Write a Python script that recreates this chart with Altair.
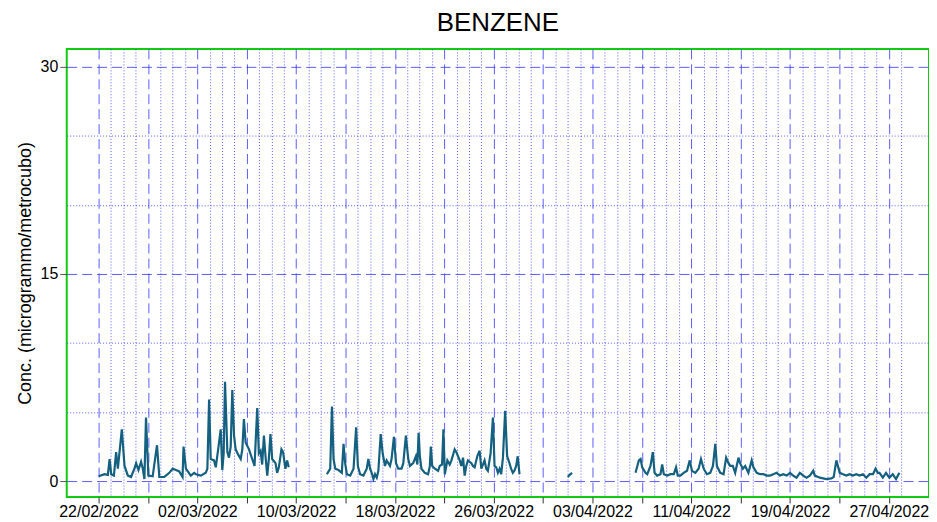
import altair as alt
import pandas as pd

TITLE = "BENZENE"
Y_TITLE = "Conc. (microgrammo/metrocubo)"
X_LABELS = ["22/02/2022", "02/03/2022", "10/03/2022", "18/03/2022", "26/03/2022",
            "03/04/2022", "11/04/2022", "19/04/2022", "27/04/2022"]
Y_LABELS = [0, 15, 30]

# days since 22/02/2022 00:00, concentration (µg/m3)
seg1_day = [0.0, 0.48, 0.75, 0.89, 1.02, 1.24, 1.42, 1.56, 1.88, 2.10, 2.37, 2.63, 2.90, 3.04, 3.23,
            3.44, 3.58, 3.71, 3.84, 4.03, 4.38, 4.73, 4.92, 5.32, 5.73, 6.0, 6.26, 6.53, 6.80, 6.88,
            7.07, 7.47, 7.74, 7.88, 8.28, 8.68, 8.81, 8.95, 9.08, 9.35, 9.49, 9.70, 9.89, 10.02, 10.13,
            10.24, 10.43, 10.56, 10.70, 10.83, 10.97, 11.10, 11.32, 11.51, 11.64, 11.77, 11.91, 12.18,
            12.44, 12.63, 12.85, 12.98, 13.12, 13.25, 13.39, 13.52, 13.66, 13.79, 13.92, 14.06, 14.33,
            14.46, 14.60, 14.81, 14.94, 15.13, 15.27, 15.40]
seg1_val = [0.35, 0.5, 0.45, 1.6, 0.5, 0.4, 2.1, 0.9, 3.75, 1.1, 0.4, 0.3, 0.9, 1.3, 0.8,
            1.4, 0.9, 0.15, 4.6, 0.4, 0.35, 2.6, 0.3, 0.3, 0.6, 0.9, 0.8, 0.7, 0.3, 2.5,
            0.9, 0.4, 0.6, 0.5, 0.4, 0.6, 0.9, 5.9, 1.6, 1.5, 1.0, 2.4, 3.75, 0.8, 2.0,
            7.2, 2.1, 1.7, 2.5, 6.6, 3.3, 2.3, 1.9, 1.6, 2.3, 4.5, 2.8, 2.3,
            1.6, 1.1, 5.3, 2.0, 2.2, 1.2, 3.3, 1.8, 0.4, 1.6, 3.4, 1.6, 1.3,
            0.6, 1.0, 2.3, 2.1, 0.9, 1.5, 1.0]

seg2_day = [18.49, 18.76, 18.90, 19.03, 19.17, 19.43, 19.70, 19.84, 19.97, 20.11, 20.38, 20.65, 20.86,
            21.0, 21.18, 21.45, 21.72, 21.85, 21.99, 22.12, 22.26, 22.39, 22.53, 22.66, 22.85, 23.01,
            23.20, 23.33, 23.60, 23.73, 23.92, 24.09, 24.27, 24.54, 24.68, 24.89, 25.08, 25.22, 25.48,
            25.70, 25.82, 25.92, 26.02, 26.15, 26.42, 26.69, 26.83, 26.91, 27.02, 27.23, 27.50, 27.63,
            27.82, 27.93, 28.04, 28.25, 28.44, 28.58, 28.84, 28.98, 29.11, 29.25, 29.38, 29.52, 29.65,
            29.78, 29.92, 30.19, 30.32, 30.46, 30.67, 30.86, 31.0, 31.13, 31.26, 31.40, 31.53, 31.75,
            31.94, 32.07, 32.21, 32.34, 32.48, 32.61, 32.75, 32.93, 33.09, 33.28, 33.41, 33.55, 33.68,
            33.82, 33.95, 34.09]
seg2_val = [0.5, 0.9, 5.4, 1.6, 0.9, 0.8, 0.6, 2.7, 1.3, 0.5, 0.4, 0.9, 3.9,
            1.1, 0.5, 0.4, 0.9, 1.6, 0.9, 0.6, 0.15, 0.5, 0.25, 0.75, 3.4, 2.0,
            1.1, 1.5, 1.1, 1.6, 3.2, 1.3, 0.9, 0.9, 1.3, 3.3, 1.6, 1.1, 1.3,
            1.8, 1.2, 3.5, 1.8, 0.9, 0.6, 0.5, 1.1, 2.5, 1.1, 0.9, 0.75, 1.1,
            1.2, 3.75, 0.5, 1.5, 1.2, 1.5, 2.3, 2.1, 1.8, 1.5, 1.1, 1.7, 0.4,
            1.1, 1.5, 1.3, 1.1, 1.0, 1.8, 2.2, 0.9, 1.2, 1.5, 0.9, 0.75, 2.0,
            4.6, 1.1, 1.0, 0.6, 0.9, 0.5, 1.7, 5.1, 1.8, 1.3, 0.9, 0.6, 0.75,
            1.1, 1.8, 0.5]

seg3_day = [38.0, 38.15, 38.35]
seg3_val = [0.3, 0.45, 0.6]

seg4_day = [43.49, 43.76, 43.90, 44.03, 44.30, 44.44, 44.70, 44.89, 45.03, 45.24, 45.51, 45.65, 45.78,
            46.05, 46.32, 46.59, 46.77, 46.91, 47.12, 47.39, 47.66, 47.88, 48.06, 48.33, 48.60, 48.79,
            49.01, 49.27, 49.54, 49.76, 49.95, 50.08, 50.35, 50.62, 50.83, 51.02, 51.16, 51.37, 51.56,
            51.83, 51.96, 52.18, 52.37, 52.63, 52.90, 53.04, 53.31, 53.58, 53.85, 54.11, 54.38, 54.65,
            54.92, 55.19, 55.46, 55.73, 56.0, 56.26, 56.53, 56.80, 57.07, 57.34, 57.61, 57.88, 58.01,
            58.42, 58.95, 59.35, 59.54, 59.76, 60.03, 60.30, 60.56, 60.83, 61.10, 61.37, 61.64, 61.91,
            62.18, 62.45, 62.72, 62.93, 63.12, 63.25, 63.52, 63.78, 64.05, 64.32, 64.59, 64.86]
seg4_val = [0.6, 1.5, 1.6, 1.0, 0.6, 0.5, 1.1, 2.1, 0.6, 0.4, 0.5, 1.2, 0.5,
            0.4, 0.5, 0.5, 1.0, 0.4, 0.4, 0.6, 0.75, 1.5, 0.75, 0.6, 0.9, 1.6,
            0.9, 0.5, 0.6, 1.1, 2.7, 1.1, 0.6, 0.5, 1.7, 1.3, 1.1, 1.1, 0.6,
            1.7, 1.3, 0.9, 1.1, 0.6, 1.5, 1.0, 0.6, 0.5, 0.5, 0.4, 0.4, 0.5,
            0.6, 0.4, 0.5, 0.4, 0.6, 0.4, 0.25, 0.6, 0.4, 0.25, 0.4, 0.75, 0.4,
            0.25, 0.15, 0.2, 0.3, 1.5, 0.6, 0.5, 0.4, 0.5, 0.4, 0.5, 0.4, 0.5,
            0.25, 0.5, 0.5, 0.9, 0.6, 0.6, 0.25, 0.6, 0.25, 0.5, 0.15, 0.6]

segments = [(seg1_day, seg1_val), (seg2_day, seg2_val), (seg3_day, seg3_val), (seg4_day, seg4_val)]
rows = []
for i, (ds, vs) in enumerate(segments):
    for d, v in zip(ds, vs):
        rows.append({"day": d, "conc": v, "seg": i})
df = pd.DataFrame(rows)

FONT = "Liberation Sans"
GRID_DAYS = list(range(0, 66))
GRID_Y = [0, 5, 10, 15, 20, 25, 30]
label_arr = "[" + ",".join("'" + s + "'" for s in X_LABELS) + "]"

x_axis = alt.Axis(
    values=GRID_DAYS,
    grid=True,
    gridColor="#3434ff",
    gridOpacity=0.8,
    gridWidth=1,
    gridDash={"condition": {"test": "datum.value % 4 === 0", "value": [10, 5]}, "value": [1, 2]},
    ticks=True,
    tickSize=6,
    tickColor="#333333",
    tickOpacity={"condition": {"test": "datum.value % 4 === 0", "value": 1}, "value": 0},
    labelExpr="datum.value % 8 === 0 ? " + label_arr + "[datum.value / 8] : ''",
    labelOverlap=False,
    labelFont=FONT,
    labelFontSize=16,
    labelColor="black",
    labelPadding=1,
    domain=False,
    title=None,
)

y_axis = alt.Axis(
    values=GRID_Y,
    grid=True,
    gridColor="#3434ff",
    gridOpacity=0.8,
    gridWidth=1,
    gridDash={"condition": {"test": "datum.value % 15 === 0", "value": [10, 5]}, "value": [1, 2]},
    ticks=True,
    tickSize=7,
    tickColor="#555555",
    tickOpacity={"condition": {"test": "datum.value % 15 === 0", "value": 1}, "value": 0},
    labelExpr="datum.value % 15 === 0 ? datum.label : ''",
    labelOverlap=False,
    labelFont=FONT,
    labelFontSize=16,
    labelColor="black",
    labelPadding=2,
    domain=False,
    title=Y_TITLE,
    titleFont=FONT,
    titleFontSize=18,
    titleFontWeight="normal",
    titleColor="black",
    titlePadding=6,
)

chart = (
    alt.Chart(df)
    .mark_line(color="#14607f", strokeWidth=2.2)
    .encode(
        x=alt.X("day:Q", scale=alt.Scale(domain=[-2.58, 67.26], nice=False, zero=False), axis=x_axis),
        y=alt.Y("conc:Q", scale=alt.Scale(domain=[-1.15, 31.3], nice=False, zero=False), axis=y_axis),
        detail="seg:N",
    )
    .properties(
        width=866,
        height=450,
        padding={"left": 59, "top": 40, "right": 0, "bottom": 24},
        autosize=alt.AutoSizeParams(type="none"),
        title=alt.TitleParams(TITLE, font=FONT, fontSize=26, fontWeight="normal",
                              color="black", anchor="middle", offset=13),
    )
    .configure_view(stroke="#10cc10", strokeWidth=2)
)

chart.save("out.html", embed_options={"renderer": "svg", "actions": False})
